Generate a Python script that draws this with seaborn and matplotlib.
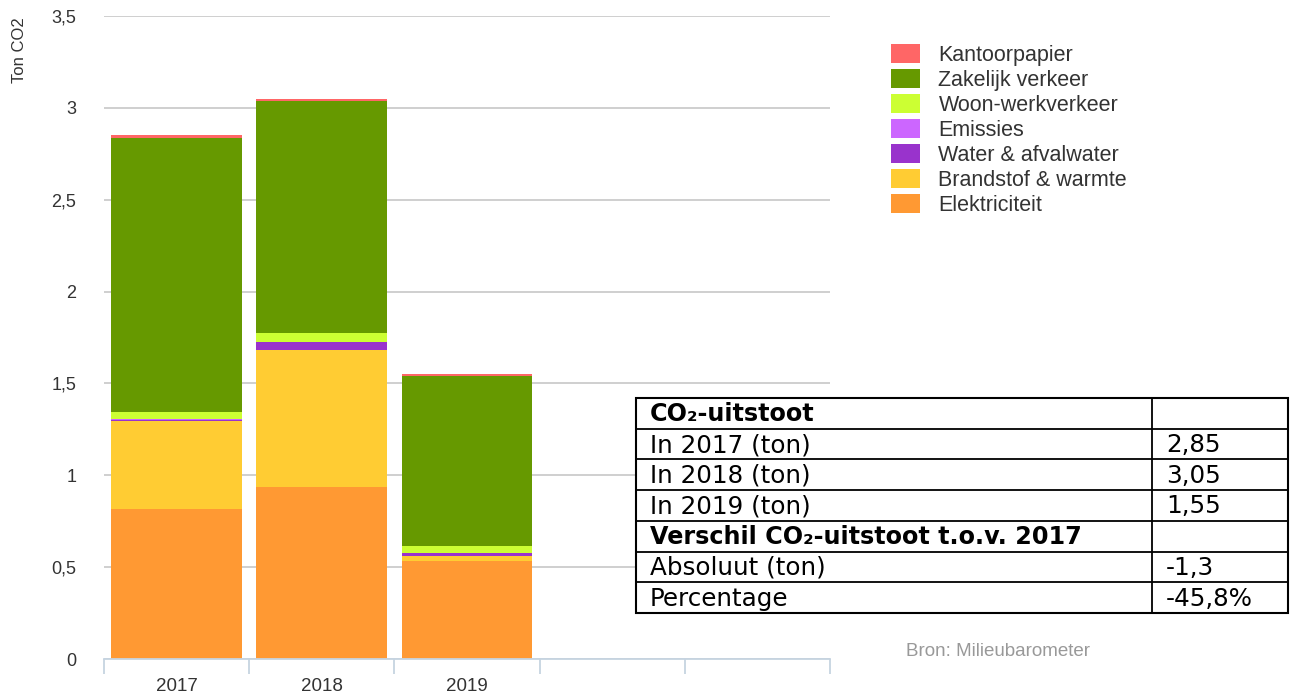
import matplotlib
matplotlib.use("Agg")
import matplotlib.pyplot as plt
import seaborn as sns
import numpy as np
import pandas as pd
from matplotlib.patches import Patch, Rectangle

years = ["2017", "2018", "2019"]
series_names = ["Elektriciteit", "Brandstof & warmte", "Water & afvalwater", "Emissies",
                "Woon-werkverkeer", "Zakelijk verkeer", "Kantoorpapier"]
elektriciteit = [0.815, 0.935, 0.533]
brandstof = [0.478, 0.748, 0.030]
water = [0.008, 0.040, 0.013]
emissies = [0.004, 0.000, 0.000]
woonwerk = [0.040, 0.050, 0.040]
zakelijk = [1.490, 1.265, 0.926]
kantoorpapier = [0.015, 0.012, 0.008]
colors = ["#ff9933", "#ffcc33", "#9933cc", "#cc66ff", "#ccff33", "#669900", "#ff6666"]

table_labels = ["CO₂-uitstoot", "In 2017 (ton)", "In 2018 (ton)", "In 2019 (ton)",
                "Verschil CO₂-uitstoot t.o.v. 2017", "Absoluut (ton)", "Percentage"]
table_values = ["", "2,85", "3,05", "1,55", "", "-1,3", "-45,8%"]
table_bold = [True, False, False, False, True, False, False]

yticks = [0, 0.5, 1, 1.5, 2, 2.5, 3, 3.5]
ytick_labels = ["0", "0,5", "1", "1,5", "2", "2,5", "3", "3,5"]

sns.set_theme(style="white")
plt.rcParams['font.family'] = ['Liberation Sans', 'DejaVu Sans']

fig = plt.figure(figsize=(12.96, 6.95), dpi=100)
ax = fig.add_axes([104/1296, 1-659/695, (830-104)/1296, (659-16)/695])

values = [elektriciteit, brandstof, water, emissies, woonwerk, zakelijk, kantoorpapier]
cum = np.cumsum(np.array(values), axis=0)
# draw from top layer down so each lower cumulative overlays
for i in range(len(series_names)-1, -1, -1):
    df = pd.DataFrame({"year": years, "val": cum[i]})
    sns.barplot(data=df, x="year", y="val", order=years, color=colors[i],
                saturation=1, width=0.9, ax=ax, linewidth=0, errorbar=None)

ax.set_xlim(-0.5, 4.5)
ax.set_ylim(0, 3.5)
ax.set_yticks(yticks)
ax.set_yticklabels(ytick_labels, fontsize=13, color="#333333")
ax.yaxis.grid(True, color="#cccccc", linewidth=1.3)
ax.set_axisbelow(True)
ax.tick_params(axis="y", length=0, pad=20)
ax.set_xticks([0, 1, 2, 3, 4])
ax.set_xticklabels(years + ["", ""], fontsize=13.5, color="#333333")
ax.set_xticks(np.arange(-0.5, 5, 1), minor=True)
ax.tick_params(axis="x", which="major", length=0, pad=14, bottom=True)
ax.tick_params(axis="x", which="minor", length=11, color="#c6d4e1", width=1.3,
               bottom=True, direction="out")
for s in ["left", "right", "top"]:
    ax.spines[s].set_visible(False)
ax.spines["bottom"].set_color("#c6d4e1")
ax.spines["bottom"].set_linewidth(1.3)
ax.set_xlabel("")
ax.set_ylabel("")
fig.text(19/1296, 1-17/695, "Ton CO2", rotation=90, ha="center", va="top",
         fontsize=12, color="#333333")

handles = [Patch(facecolor=colors[i], edgecolor="none") for i in range(len(series_names)-1, -1, -1)]
labels = [series_names[i] for i in range(len(series_names)-1, -1, -1)]
fig.legend(handles, labels, loc="upper left", bbox_to_anchor=(876/1296, 1-29/695),
           frameon=False, fontsize=15.5, handlelength=1.35, handleheight=1.0,
           labelspacing=0.135, handletextpad=0.85, labelcolor="#333333", borderpad=0.2)

fig.text(998/1296, 1-651/695, "Bron: Milieubarometer", ha="center", va="center",
         fontsize=13.5, color="#999999")

# table
tx0, tx1, txm = 636, 1288, 1152
ty0, ty1 = 398, 613
tab = fig.add_axes([0, 0, 1, 1], facecolor="none")
tab.set_xlim(0, 1296)
tab.set_ylim(695, 0)
tab.axis("off")
tab.add_patch(Rectangle((tx0, ty0), tx1-tx0, ty1-ty0, facecolor="white", edgecolor="black", linewidth=1.5))
nrows = len(table_labels)
rh = (ty1-ty0)/nrows
for r in range(1, nrows):
    tab.plot([tx0, tx1], [ty0+r*rh]*2, color="black", linewidth=1.3)
tab.plot([txm, txm], [ty0, ty1], color="black", linewidth=1.3)
for r in range(nrows):
    yc = ty0 + (r+0.5)*rh + 1
    tab.text(tx0+14, yc, table_labels[r], ha="left", va="center",
             fontsize=17.2 if table_bold[r] else 17.7,
             fontweight="bold" if table_bold[r] else "normal", family="DejaVu Sans", color="black")
    tab.text(txm+14, yc, table_values[r], ha="left", va="center", fontsize=17.7,
             family="DejaVu Sans", color="black")

fig.savefig("out.png", dpi=100)
